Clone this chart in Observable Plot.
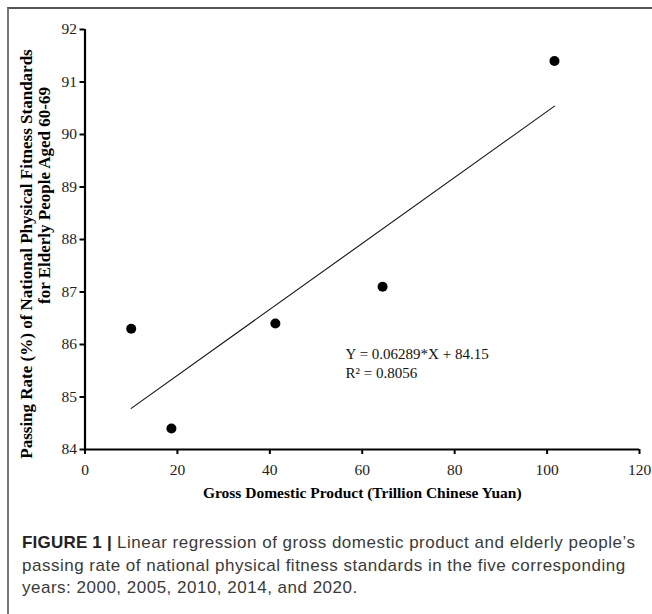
<!DOCTYPE html>
<html>
<head>
<meta charset="utf-8">
<script src="https://cdn.jsdelivr.net/npm/d3@7"></script>
<script src="https://cdn.jsdelivr.net/npm/@observablehq/plot@0.6"></script>
<style>
  html, body { margin: 0; padding: 0; background: #fff; }
  body { width: 652px; height: 614px; overflow: hidden; position: relative; }
  #frame { position: absolute; left: 7px; top: 7px; width: 700px; height: 700px;
           border-left: 2px solid #777; border-top: 2px solid #555; box-sizing: border-box; }
  #chart { position: absolute; left: 0; top: 0; }
  #caption { position: absolute; left: 22px; top: 532px; width: 640px;
             font-family: "Liberation Sans", Arial, sans-serif; font-size: 17px;
             letter-spacing: 0.5px;
             line-height: 22.5px; color: #3a3a3a; white-space: nowrap; }
  #caption b { color: #222; letter-spacing: 0.2px; }
</style>
</head>
<body>
<div id="frame"></div>
<div id="chart"></div>
<div id="caption"><b>FIGURE 1 |</b> Linear regression of gross domestic product and elderly people’s<br>passing rate of national physical fitness standards in the five corresponding<br>years: 2000, 2005, 2010, 2014, and 2020.</div>
<script>
// Data
const years = [2000, 2005, 2010, 2014, 2020];
const gdp = [10.0, 18.7, 41.2, 64.4, 101.6];          // trillion yuan
const passRate = [86.3, 84.4, 86.4, 87.1, 91.4];       // %
const xTicks = [0, 20, 40, 60, 80, 100, 120];
const yTicks = [84, 85, 86, 87, 88, 89, 90, 91, 92];
const equationLines = ["Y = 0.06289*X + 84.15", "R² = 0.8056"];
const xTitle = "Gross Domestic Product (Trillion Chinese Yuan)";
const yTitleLines = ["Passing Rate (%) of National Physical Fitness Standards", "for Elderly People Aged 60-69"];

const data = years.map((yr, i) => ({year: yr, gdp: gdp[i], rate: passRate[i]}));
const serif = "'Liberation Serif', 'Times New Roman', serif";

const plot = Plot.plot({
  width: 652,
  height: 510,
  marginLeft: 84.5,
  marginRight: 13,
  marginTop: 29,
  marginBottom: 61,
  style: {fontFamily: serif, background: "transparent", overflow: "visible"},
  x: {domain: [0, 120]},
  y: {domain: [84, 92]},
  marks: [
    Plot.axisX({ticks: xTicks, tickSize: 5, tickPadding: 9, strokeWidth: 2, fontSize: 15.5, fill: "#222", label: null, tickFormat: d => String(d)}),
    Plot.axisY({ticks: yTicks, tickSize: 5, tickPadding: 3, strokeWidth: 2, fontSize: 15.5, fill: "#222", label: null, tickFormat: d => String(d)}),
    Plot.ruleY([84], {stroke: "#000", strokeWidth: 2.2}),
    Plot.ruleX([0], {stroke: "#000", strokeWidth: 2.2}),
    Plot.linearRegressionY(data, {x: "gdp", y: "rate", ci: 0, stroke: "#111", strokeWidth: 1.1}),
    Plot.dot(data, {x: "gdp", y: "rate", r: 5, fill: "#000", stroke: "none"}),
    Plot.text([equationLines.join("\n")], {x: 56.4, y: 85.65, text: d => d, textAnchor: "start", lineAnchor: "middle", lineHeight: 1.27, fontSize: 15, fill: "#111"}),
    Plot.text([xTitle], {frameAnchor: "bottom", text: d => d, textAnchor: "middle", lineAnchor: "middle", dy: 43.4, fontSize: 15.5, fontWeight: "bold", fill: "#000"}),
    Plot.text([yTitleLines[0]], {frameAnchor: "left", text: d => d, textAnchor: "middle", lineAnchor: "middle", rotate: -90, dx: -58.5, dy: 14.5, fontSize: 17, fontWeight: "bold", fill: "#000"}),
    Plot.text([yTitleLines[1]], {frameAnchor: "left", text: d => d, textAnchor: "middle", lineAnchor: "middle", rotate: -90, dx: -40, dy: -44, fontSize: 17, fontWeight: "bold", fill: "#000"})
  ]
});
document.getElementById("chart").appendChild(plot);
</script>
</body>
</html>
